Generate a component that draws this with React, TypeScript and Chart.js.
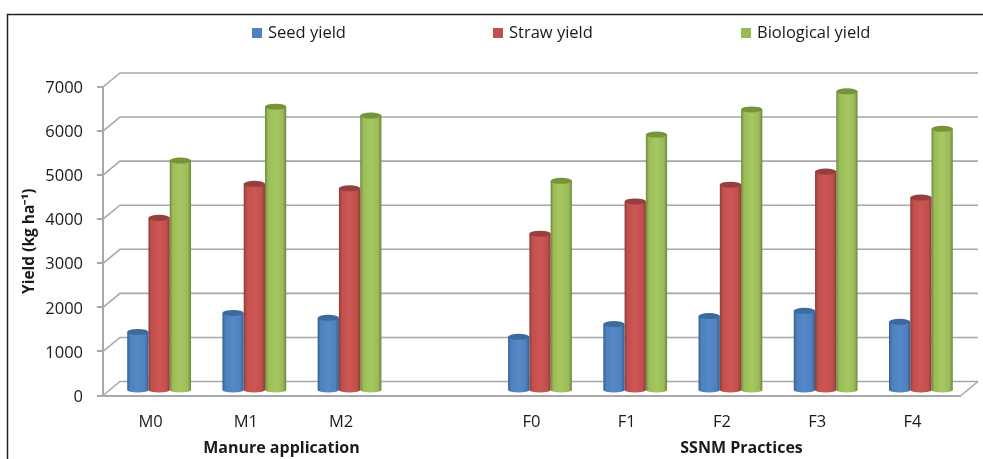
import React, { useEffect, useRef } from "react";
import { Chart, registerables } from "chart.js";

Chart.register(...registerables);

const categories = ["M0", "M1", "M2", "", "F0", "F1", "F2", "F3", "F4"];
const seedYield = [1340, 1770, 1660, null, 1230, 1520, 1700, 1820, 1570];
const strawYield = [3930, 4700, 4600, null, 3570, 4300, 4680, 4980, 4390];
const biologicalYield = [5230, 6450, 6250, null, 4770, 5820, 6390, 6800, 5950];
const yTicks = [0, 1000, 2000, 3000, 4000, 5000, 6000, 7000];
const groupLabels = ["Manure application", "SSNM Practices"];
const seriesNames = ["Seed yield", "Straw yield", "Biological yield"];

const FONT = '"Open Sans", sans-serif';
const GRID = "#a8a8a8";
const TEXT = "#1a1a1a";
const DX = 17;
const DY = 14;
const BAR_DX = 8.5;
const BAR_DY = 4.5;
const CAT_PCT = 0.67;

const palette = [
  { dark: "#33608f", main: "#4f81bd", light: "#5589c8", cap: "#3c6a9f" },
  { dark: "#8f3a38", main: "#c0504d", light: "#cd5653", cap: "#973f3d" },
  { dark: "#6c8a38", main: "#9bbb59", light: "#a6c860", cap: "#76933c" },
];
const legendX = [252, 493, 741];
const legendY = 33;

const fillGradient = (ctx: any, cx: number, w: number, di: number) => {
  const g = ctx.createLinearGradient(cx - w / 2, 0, cx + w / 2, 0);
  g.addColorStop(0, palette[di].dark);
  g.addColorStop(0.14, palette[di].main);
  g.addColorStop(0.5, palette[di].light);
  g.addColorStop(0.84, palette[di].main);
  g.addColorStop(1, palette[di].dark);
  return g;
};

const wallPlugin = {
  id: "wall",
  beforeDraw(chart: any) {
    const { ctx, chartArea, scales } = chart;
    const { left, right, bottom } = chartArea;
    ctx.save();
    ctx.fillStyle = "#fff";
    ctx.fillRect(0, 0, chart.width, chart.height);
    ctx.strokeStyle = "#222";
    ctx.lineWidth = 1.5;
    ctx.beginPath();
    ctx.moveTo(7.5, chart.height);
    ctx.lineTo(7.5, 14.5);
    ctx.lineTo(chart.width, 14.5);
    ctx.stroke();
    ctx.strokeStyle = GRID;
    ctx.lineWidth = 1.6;
    ctx.beginPath();
    for (const v of yTicks) {
      const y = scales.y.getPixelForValue(v);
      ctx.moveTo(left, y);
      ctx.lineTo(left + DX, y - DY);
      ctx.lineTo(right + DX + 1, y - DY);
    }
    ctx.moveTo(right + 1, bottom);
    ctx.lineTo(right + DX + 1, bottom - DY);
    ctx.stroke();
    ctx.restore();
  },
  beforeDatasetsDraw(chart: any) {
    const { ctx } = chart;
    ctx.save();
    ctx.translate(BAR_DX, -BAR_DY);
    chart.data.datasets.forEach((_: any, di: number) => {
      chart.getDatasetMeta(di).data.forEach((el: any, i: number) => {
        if (chart.data.datasets[di].data[i] == null) return;
        ctx.fillStyle = fillGradient(ctx, el.x, el.width, di);
        ctx.beginPath();
        ctx.ellipse(el.x, el.base, el.width / 2, 2.5, 0, 0, Math.PI * 2);
        ctx.fill();
      });
    });
  },
  afterDatasetsDraw(chart: any) {
    const { ctx } = chart;
    chart.data.datasets.forEach((_: any, di: number) => {
      chart.getDatasetMeta(di).data.forEach((el: any, i: number) => {
        if (chart.data.datasets[di].data[i] == null) return;
        ctx.fillStyle = palette[di].cap;
        ctx.beginPath();
        ctx.ellipse(el.x, el.y, el.width / 2, 3, 0, 0, Math.PI * 2);
        ctx.fill();
      });
    });
    ctx.restore();
  },
  afterDraw(chart: any) {
    const { ctx, scales } = chart;
    ctx.save();
    ctx.textBaseline = "middle";
    seriesNames.forEach((name, i) => {
      ctx.fillStyle = palette[i].main;
      ctx.fillRect(legendX[i], legendY - 5, 10, 10);
      ctx.fillStyle = TEXT;
      ctx.font = `16.5px ${FONT}`;
      ctx.textAlign = "left";
      ctx.fillText(name, legendX[i] + 16, legendY);
    });
    ctx.font = `bold 16px ${FONT}`;
    ctx.textAlign = "center";
    const xs = scales.x;
    ctx.fillText(groupLabels[0], (xs.getPixelForValue(1) + xs.getPixelForValue(2)) / 2 - 12, 448);
    ctx.fillText(groupLabels[1], (xs.getPixelForValue(6) + xs.getPixelForValue(7)) / 2 - 28, 448);
    ctx.restore();
  },
};

const gradientFor = (di: number) => (c: any) => {
  const xs = c.chart.scales.x;
  if (!xs || c.dataIndex == null || !xs.width) return palette[di].main;
  const cat = xs.width / categories.length;
  const w = (cat * CAT_PCT) / 3;
  const cx = xs.getPixelForValue(c.dataIndex) + (di - 1) * w;
  return fillGradient(c.chart.ctx, cx, w, di);
};

export default function App() {
  const ref = useRef<HTMLCanvasElement>(null);
  useEffect(() => {
    document.body.style.margin = "0";
    const chart = new Chart(ref.current!, {
      type: "bar",
      data: {
        labels: categories,
        datasets: [seedYield, strawYield, biologicalYield].map((d, i) => ({
          label: seriesNames[i],
          data: d,
          backgroundColor: gradientFor(i),
          borderWidth: 0,
          categoryPercentage: CAT_PCT,
          barPercentage: 1,
        })),
      } as any,
      options: {
        responsive: false,
        animation: false,
        layout: { padding: { top: 87, right: 23, left: 0, bottom: 0 } },
        plugins: { legend: { display: false }, tooltip: { enabled: false } },
        scales: {
          x: {
            grid: { display: false },
            border: { color: GRID, width: 2 },
            ticks: { color: TEXT, font: { family: FONT, size: 16.5 }, padding: 9, maxRotation: 0, autoSkip: false },
            afterFit: (s: any) => { s.height = 63.5; },
          },
          y: {
            min: 0,
            max: 7000,
            afterBuildTicks: (s: any) => { s.ticks = yTicks.map((value) => ({ value })); },
            grid: { drawOnChartArea: false, drawTicks: true, tickLength: 6, color: GRID, lineWidth: 2 },
            border: { color: GRID, width: 2 },
            ticks: {
              color: TEXT,
              font: { family: FONT, size: 16.5 },
              padding: 14,
              labelOffset: 1.5,
              callback: (v: any) => String(v),
            },
            title: {
              display: true,
              text: "Yield (kg ha⁻¹)",
              color: TEXT,
              font: { family: FONT, size: 15.5, weight: "bold" },
              padding: { top: 20, bottom: 0 },
            },
            afterFit: (s: any) => { s.width = 103; },
          },
        },
      } as any,
      plugins: [wallPlugin],
    });
    return () => chart.destroy();
  }, []);
  return <canvas ref={ref} width={983} height={459} style={{ display: "block" }} />;
}
